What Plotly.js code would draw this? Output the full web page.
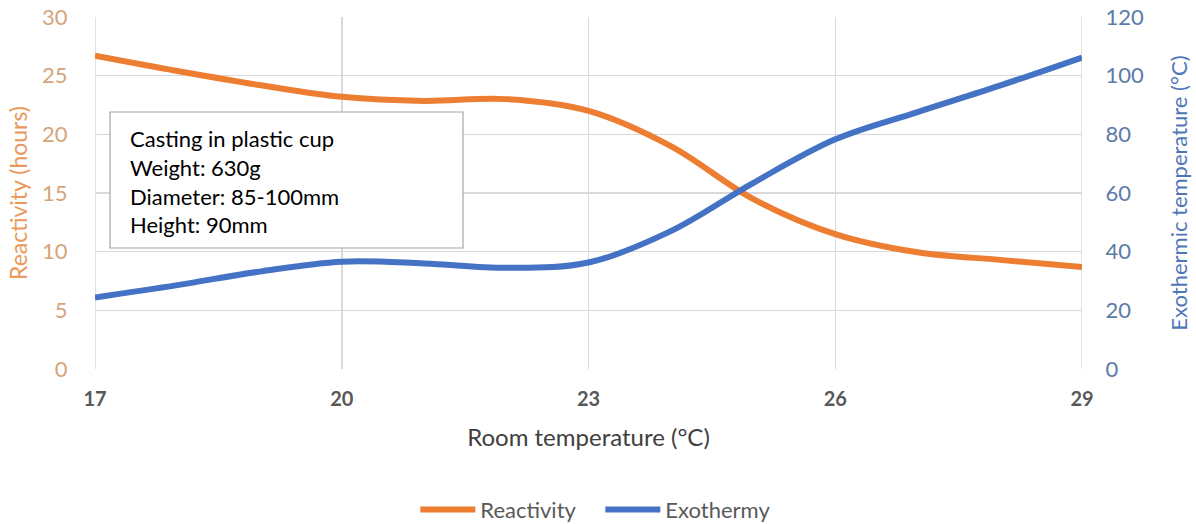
<!DOCTYPE html>
<html>
<head>
<meta charset="utf-8">
<script src="https://cdn.plot.ly/plotly-3.0.1.min.js"></script>
<style>html,body{margin:0;padding:0;background:#fff;}#chart{width:1196px;height:524px;}</style>
</head>
<body>
<div id="chart"></div>
<script>
// Room temperature (°C)
const roomTemp = [17, 18, 19, 20, 21, 22, 23, 24, 25, 26, 27, 28, 29];
// Reactivity (hours) – left axis
const reactivity = [26.7, 25.4, 24.2, 23.2, 22.85, 23.0, 22.0, 19.0, 14.5, 11.5, 9.95, 9.3, 8.7];
// Exothermic temperature (°C) – right axis
const exothermy = [24.4, 28.6, 33.2, 36.6, 36.0, 34.5, 36.3, 47.0, 63.4, 78.3, 87.6, 96.6, 106.2];

const xTicks = [17, 20, 23, 26, 29];
const leftTicks = [0, 5, 10, 15, 20, 25, 30];
const rightTicks = [0, 20, 40, 60, 80, 100, 120];
const noteLines = ["Casting in plastic cup", "Weight: 630g", "Diameter: 85-100mm", "Height: 90mm"];

const FONT = "Lato, Open Sans, sans-serif";

const traces = [
  {
    x: roomTemp, y: reactivity, name: "Reactivity", type: "scatter", mode: "lines",
    line: {color: "#ED7D31", width: 6, shape: "spline", smoothing: 1},
    yaxis: "y"
  },
  {
    x: roomTemp, y: exothermy, name: "Exothermy", type: "scatter", mode: "lines",
    line: {color: "#4472C4", width: 6, shape: "spline", smoothing: 1},
    yaxis: "y2"
  }
];

const annotations = noteLines.map((t, i) => ({
  xref: "paper", yref: "paper",
  x: (128 - 95) / 987, y: (369 - (138 + i * 29)) / 352,
  xanchor: "left", yanchor: "middle",
  text: t, showarrow: false,
  font: {family: FONT, size: 22, color: "#000000"}
}));

const layout = {
  width: 1196, height: 524,
  margin: {l: 95, r: 114, t: 17, b: 155, autoexpand: false},
  paper_bgcolor: "#ffffff", plot_bgcolor: "#ffffff",
  showlegend: true,
  legend: {
    orientation: "h", x: 0.512, xanchor: "center", y: -0.40, yanchor: "middle",
    font: {family: FONT, size: 22, color: "#595959"},
    itemwidth: 55, tracegroupgap: 0,
    entrywidth: 115, entrywidthmode: "pixels"
  },
  xaxis: {
    range: [17, 29], tickvals: xTicks, ticktext: xTicks.map(String),
    showgrid: true, gridcolor: "#D9D9D9", gridwidth: 1.5,
    zeroline: false, showline: false, automargin: false,
    ticks: "outside", ticklen: 12, tickcolor: "rgba(0,0,0,0)",
    tickfont: {family: FONT, size: 20, color: "#595959", weight: "bold"},
    title: {text: "Room temperature (°C)", font: {family: FONT, size: 24, color: "#404040"}, standoff: 20}
  },
  yaxis: {
    range: [0, 30], tickvals: leftTicks,
    showgrid: true, gridcolor: "#D9D9D9", gridwidth: 1.5,
    zeroline: false, showline: false, automargin: false,
    ticks: "outside", ticklen: 22, tickcolor: "rgba(0,0,0,0)",
    tickfont: {family: FONT, size: 22, color: "#D4A57A"},
    title: {text: "Reactivity (hours)", font: {family: FONT, size: 23, color: "#E9995B"}, standoff: 8}
  },
  yaxis2: {
    range: [0, 120], tickvals: rightTicks, overlaying: "y", side: "right",
    showgrid: false, zeroline: false, showline: false, automargin: false,
    ticks: "outside", ticklen: 18, tickcolor: "rgba(0,0,0,0)",
    tickfont: {family: FONT, size: 22, color: "#5B7BA8"},
    title: {text: "Exothermic temperature (°C)", font: {family: FONT, size: 22, color: "#4F77B8"}, standoff: 28}
  },
  shapes: [
    {type: "line", xref: "x", yref: "paper", x0: 17, x1: 17, y0: 0, y1: 1, line: {color: "#D9D9D9", width: 1.5}, layer: "below"},
    {type: "line", xref: "x", yref: "paper", x0: 29, x1: 29, y0: 0, y1: 1, line: {color: "#D9D9D9", width: 1.5}, layer: "below"},
    {type: "rect", xref: "paper", yref: "paper",
     x0: (110 - 95) / 987, x1: (463 - 95) / 987,
     y0: (369 - 248) / 352, y1: (369 - 112) / 352,
     fillcolor: "#ffffff", line: {color: "#A6A6A6", width: 1.2}, layer: "above"}
  ],
  annotations: annotations
};

Plotly.newPlot("chart", traces, layout, {displayModeBar: false, staticPlot: true});
</script>
</body>
</html>
